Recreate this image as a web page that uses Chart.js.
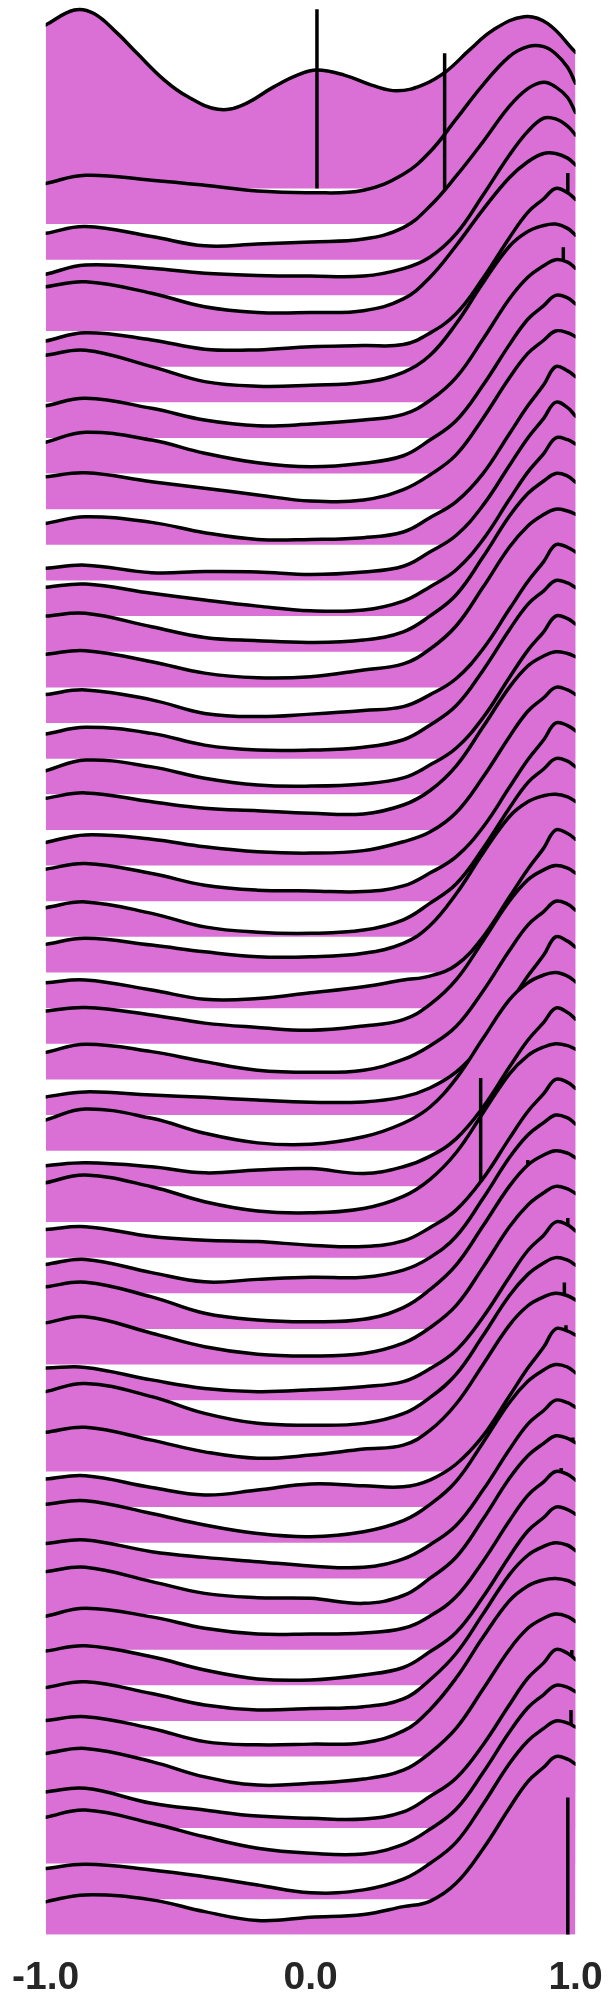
<!DOCTYPE html>
<html><head><meta charset="utf-8">
<script src="https://cdn.jsdelivr.net/npm/chart.js@4.4.1/dist/chart.umd.min.js"></script>
<style>html,body{margin:0;padding:0;background:#fff;}#wrap{width:613px;height:2008px;}</style>
</head><body><div id="wrap"><canvas id="c" width="613" height="2008"></canvas></div>
<script>
// x positions of density samples (common grid) and for the top ridge
const gridX = [-1, -0.85, -0.6, -0.4, -0.2, 0, 0.2, 0.35, 0.45, 0.55, 0.65, 0.75, 0.82, 0.88, 0.925, 0.97, 1];
const topX = [-1, -0.892, -0.818, -0.729, -0.655, -0.552, -0.463, -0.35, -0.257, -0.139, -0.05, 0.024, 0.127, 0.23, 0.326, 0.422, 0.511, 0.599, 0.688, 0.806, 0.894, 1.0];
const xTickValues = [-1, 0, 1];

// ridge heights (in units of row spacing), top ridge first
const r00 = [4.585, 5.006, 4.91, 4.35, 3.79, 3.04, 2.57, 2.22, 2.34, 2.85, 3.18, 3.32, 3.18, 2.9, 2.74, 2.9, 3.28, 3.88, 4.44, 4.82, 4.63, 3.82];
const r01 = [1.14,1.37,1.23,1.09,0.93,0.88,0.95,1.4,2.02,2.95,3.9,4.7,4.98,4.98,4.78,4.4,3.95];
const r02 = [0.74,0.93,0.65,0.39,0.44,0.5,0.58,0.9,1.5,2.35,3.3,4.3,4.8,4.98,4.85,4.55,4.13];
const r03 = [0.59,0.85,0.76,0.62,0.56,0.54,0.54,0.75,1.07,1.73,2.8,3.93,4.6,4.97,4.95,4.75,4.5];
const r04 = [1.24,1.38,1.06,0.68,0.52,0.52,0.57,0.9,1.5,2.4,3.4,4.3,4.75,4.98,4.98,4.85,4.66];
const r05 = [0.72,0.95,0.75,0.49,0.47,0.56,0.59,0.62,0.94,1.49,2.47,3.61,4.33,4.71,5.0,4.88,4.69];
const r06 = [1.32,1.46,1.0,0.58,0.45,0.48,0.56,0.84,1.31,2.21,3.34,4.37,4.79,4.96,5.0,4.88,4.69];
const r07 = [0.9,1.11,0.83,0.5,0.34,0.39,0.5,0.66,1.05,1.7,2.76,3.9,4.51,4.83,5.0,4.93,4.76];
const r08 = [0.88,1.16,0.94,0.57,0.3,0.19,0.29,0.5,0.94,1.49,2.47,3.61,4.33,4.71,5.0,4.93,4.76];
const r09 = [0.91,1.02,0.77,0.59,0.4,0.23,0.26,0.55,0.96,1.53,2.54,3.68,4.37,4.74,5.0,4.95,4.84];
const r10 = [0.6,0.79,0.63,0.34,0.15,0.15,0.2,0.36,0.76,1.21,1.99,3.11,3.9,4.49,5.0,4.88,4.72];
const r11 = [0.34,0.43,0.22,0.25,0.24,0.17,0.24,0.4,0.8,1.27,2.1,3.22,4.0,4.55,5.0,4.85,4.61];
const r12 = [0.81,0.9,0.64,0.45,0.28,0.15,0.17,0.42,0.82,1.3,2.14,3.27,4.04,4.56,5.0,4.95,4.83];
const r13 = [1.0,1.08,0.7,0.4,0.31,0.26,0.33,0.56,1.0,1.6,2.65,3.8,4.44,4.79,5.0,4.93,4.76];
const r14 = [0.93,1.03,0.72,0.4,0.27,0.3,0.49,0.66,1.07,1.73,2.8,3.93,4.53,4.85,5.0,4.95,4.86];
const r15 = [0.8,0.93,0.65,0.27,0.18,0.25,0.35,0.46,0.79,1.25,2.07,3.19,3.97,4.53,5.0,4.93,4.8];
const r16 = [0.69,0.88,0.71,0.38,0.24,0.24,0.32,0.53,0.94,1.49,2.47,3.61,4.33,4.71,5.0,4.93,4.8];
const r17 = [0.66,0.96,0.77,0.45,0.26,0.23,0.29,0.46,0.82,1.3,2.14,3.27,4.04,4.56,5.0,4.93,4.78];
const r18 = [0.89,1.04,0.79,0.61,0.54,0.47,0.45,0.7,1.1,1.8,2.88,4.0,4.6,4.88,5.0,4.95,4.86];
const r19 = [0.65,0.86,0.74,0.53,0.39,0.35,0.42,0.67,0.94,1.49,2.47,3.61,4.33,4.71,5.0,4.93,4.8];
const r20 = [0.9,1.06,0.78,0.45,0.31,0.29,0.27,0.43,0.79,1.25,2.07,3.19,3.97,4.53,5.0,4.93,4.78];
const r21 = [0.82,0.98,0.66,0.28,0.13,0.1,0.19,0.48,0.94,1.49,2.47,3.61,4.33,4.71,5.0,4.93,4.77];
const r22 = [0.79,0.96,0.77,0.58,0.44,0.44,0.54,0.82,1.31,2.21,3.34,4.37,4.79,4.96,5.0,4.93,4.8];
const r23 = [0.71,0.79,0.51,0.25,0.27,0.43,0.6,0.79,0.9,1.21,1.99,3.11,3.9,4.49,5.0,4.9,4.74];
const r24 = [0.92,1.02,0.81,0.58,0.46,0.38,0.5,0.68,1.1,1.8,2.88,4.0,4.6,4.88,5.0,4.93,4.79];
const r25 = [0.76,0.99,0.78,0.5,0.26,0.2,0.26,0.56,0.94,1.49,2.47,3.61,4.33,4.71,5.0,4.92,4.75];
const r26 = [0.51,0.65,0.56,0.5,0.42,0.36,0.37,0.51,0.76,1.21,1.99,3.11,3.9,4.49,5.0,4.88,4.71];
const r27 = [0.86,1.17,0.91,0.49,0.22,0.18,0.39,0.77,1.22,2.03,3.14,4.23,4.71,4.93,5.0,4.9,4.74];
const r28 = [0.58,0.66,0.55,0.38,0.46,0.5,0.36,0.55,0.84,1.34,2.21,3.34,4.1,4.6,5.0,4.88,4.69];
const r29 = [1.1,1.32,0.99,0.57,0.31,0.26,0.38,0.72,1.19,1.95,3.05,4.15,4.67,4.91,5.0,4.95,4.85];
const r30 = [0.79,0.87,0.59,0.49,0.45,0.35,0.31,0.47,0.84,1.34,2.21,3.34,4.1,4.6,5.0,4.92,4.75];
const r31 = [0.81,0.95,0.58,0.32,0.39,0.45,0.45,0.65,1.0,1.6,2.65,3.8,4.44,4.79,5.0,4.92,4.75];
const r32 = [1.18,1.31,0.9,0.44,0.25,0.2,0.27,0.6,1.1,1.8,2.88,4.0,4.6,4.88,5.0,4.93,4.8];
const r33 = [1.17,1.34,0.88,0.5,0.29,0.24,0.31,0.6,1.03,1.66,2.72,3.86,4.48,4.82,5.0,4.93,4.8];
const r34 = [0.9,0.92,0.57,0.33,0.24,0.29,0.38,0.52,0.88,1.4,2.32,3.45,4.2,4.63,5.0,4.92,4.75];
const r35 = [1.24,1.47,1.1,0.63,0.35,0.3,0.35,0.62,1.07,1.73,2.8,3.93,4.53,4.85,5.0,4.93,4.79];
const r36 = [1.1,1.24,0.88,0.55,0.37,0.46,0.63,0.74,1.15,1.9,2.99,4.1,4.65,4.9,5.0,4.93,4.81];
const r37 = [0.79,0.88,0.55,0.34,0.48,0.65,0.6,0.57,0.76,1.21,1.99,3.11,3.9,4.49,5.0,4.94,4.83];
const r38 = [1.08,1.18,0.82,0.5,0.26,0.17,0.31,0.62,1.07,1.73,2.8,3.93,4.53,4.85,5.0,4.93,4.77];
const r39 = [0.98,1.08,0.75,0.59,0.47,0.35,0.31,0.55,0.94,1.49,2.47,3.61,4.33,4.71,5.0,4.93,4.8];
const r40 = [1.19,1.31,0.91,0.58,0.46,0.44,0.3,0.52,1.0,1.6,2.65,3.8,4.44,4.79,5.0,4.93,4.81];
const r41 = [0.94,1.16,0.92,0.6,0.44,0.44,0.47,0.6,0.94,1.49,2.47,3.61,4.33,4.71,5.0,4.92,4.76];
const r42 = [0.96,1.11,0.8,0.43,0.18,0.15,0.29,0.5,0.94,1.49,2.47,3.61,4.33,4.71,5.0,4.93,4.8];
const r43 = [0.94,1.1,0.77,0.45,0.31,0.35,0.4,0.62,1.15,1.9,2.99,4.1,4.65,4.9,5.0,4.93,4.78];
const r44 = [1.01,1.12,0.79,0.42,0.33,0.35,0.39,0.72,1.31,2.21,3.34,4.37,4.79,4.96,5.0,4.94,4.83];
const r45 = [1.09,1.23,0.86,0.43,0.2,0.25,0.37,0.62,1.1,1.8,2.88,4.0,4.6,4.88,5.0,4.93,4.79];
const r46 = [1.01,1.11,0.69,0.5,0.33,0.27,0.25,0.45,0.88,1.4,2.32,3.45,4.2,4.63,5.0,4.9,4.72];
const r47 = [1.3,1.5,1.13,0.75,0.43,0.29,0.27,0.54,0.96,1.53,2.54,3.68,4.37,4.74,5.0,4.94,4.82];
const r48 = [0.86,0.98,0.82,0.63,0.4,0.18,0.26,0.56,1.0,1.6,2.65,3.8,4.44,4.79,5.0,4.94,4.83];
const r49 = [0.93,1.12,0.98,0.65,0.4,0.49,0.57,0.79,0.94,1.45,2.4,3.55,4.3,4.7,5.0,4.93,4.79];

const ridges = [r00,r01,r02,r03,r04,r05,r06,r07,r08,r09,r10,r11,r12,r13,r14,r15,r16,r17,r18,r19,
  r20,r21,r22,r23,r24,r25,r26,r27,r28,r29,r30,r31,r32,r33,r34,r35,r36,r37,r38,r39,
  r40,r41,r42,r43,r44,r45,r46,r47,r48,r49];

// vertical marker lines: ridge index, x value, height
const lineRidge = [0, 1, 4, 6, 29, 31, 33, 35, 36, 39, 40, 45, 47, 49];
const lineX = [0.024, 0.506, 0.971, 0.954, 0.642, 0.82, 0.971, 0.958, 0.964, 0.99, 0.946, 0.986, 0.983, 0.971];
const lineTop = [5.03, 4.79, 4.43, 4.35, 4.04, 3.74, 4.11, 4.3, 4.1, 3.95, 4.1, 3.99, 4.31, 3.85];

const N = ridges.length;
const datasets = [];
ridges.forEach((h, k) => {
  const base = N - 1 - k;
  const xs = k === 0 ? topX : gridX;
  datasets.push({
    data: h.map((v, i) => ({x: xs[i], y: base + v})),
    borderColor: '#000000', borderWidth: 3.5, backgroundColor: '#DA70D6',
    fill: {value: base}, pointRadius: 0, tension: 0.4,
    borderCapStyle: 'round', borderJoinStyle: 'round',
    order: 2 * (N - 1 - k) + 1
  });
});
lineRidge.forEach((k, j) => {
  const base = N - 1 - k;
  datasets.push({
    data: [{x: lineX[j], y: base}, {x: lineX[j], y: base + lineTop[j]}],
    borderColor: '#000000', borderWidth: 3.5, fill: false, pointRadius: 0, tension: 0,
    borderCapStyle: 'butt', order: 2 * (N - 1 - k)
  });
});

new Chart(document.getElementById('c'), {
  type: 'line',
  data: {datasets},
  options: {
    responsive: false, animation: false, devicePixelRatio: 1,
    layout: {padding: {left: 45.7, right: 37.5, top: 0, bottom: 0}},
    plugins: {
      legend: {display: false}, tooltip: {enabled: false},
      filler: {drawTime: 'beforeDatasetDraw', propagate: false}
    },
    scales: {
      x: {
        type: 'linear', min: -1, max: 1,
        grid: {display: false, drawTicks: false}, border: {display: false},
        afterBuildTicks: s => { s.ticks = xTickValues.map(v => ({value: v})); },
        ticks: {
          autoSkip: false, maxRotation: 0, padding: 20, color: '#262626',
          font: {family: '"Liberation Sans", Arial, sans-serif', weight: 'bold', size: 39},
          callback: v => Number(v).toFixed(1)
        },
        afterFit: s => { s.height = 73.2; s.paddingLeft = 0; s.paddingRight = 0; }
      },
      y: {type: 'linear', display: false, min: 0, max: 54.287}
    }
  }
});
</script></body></html>
